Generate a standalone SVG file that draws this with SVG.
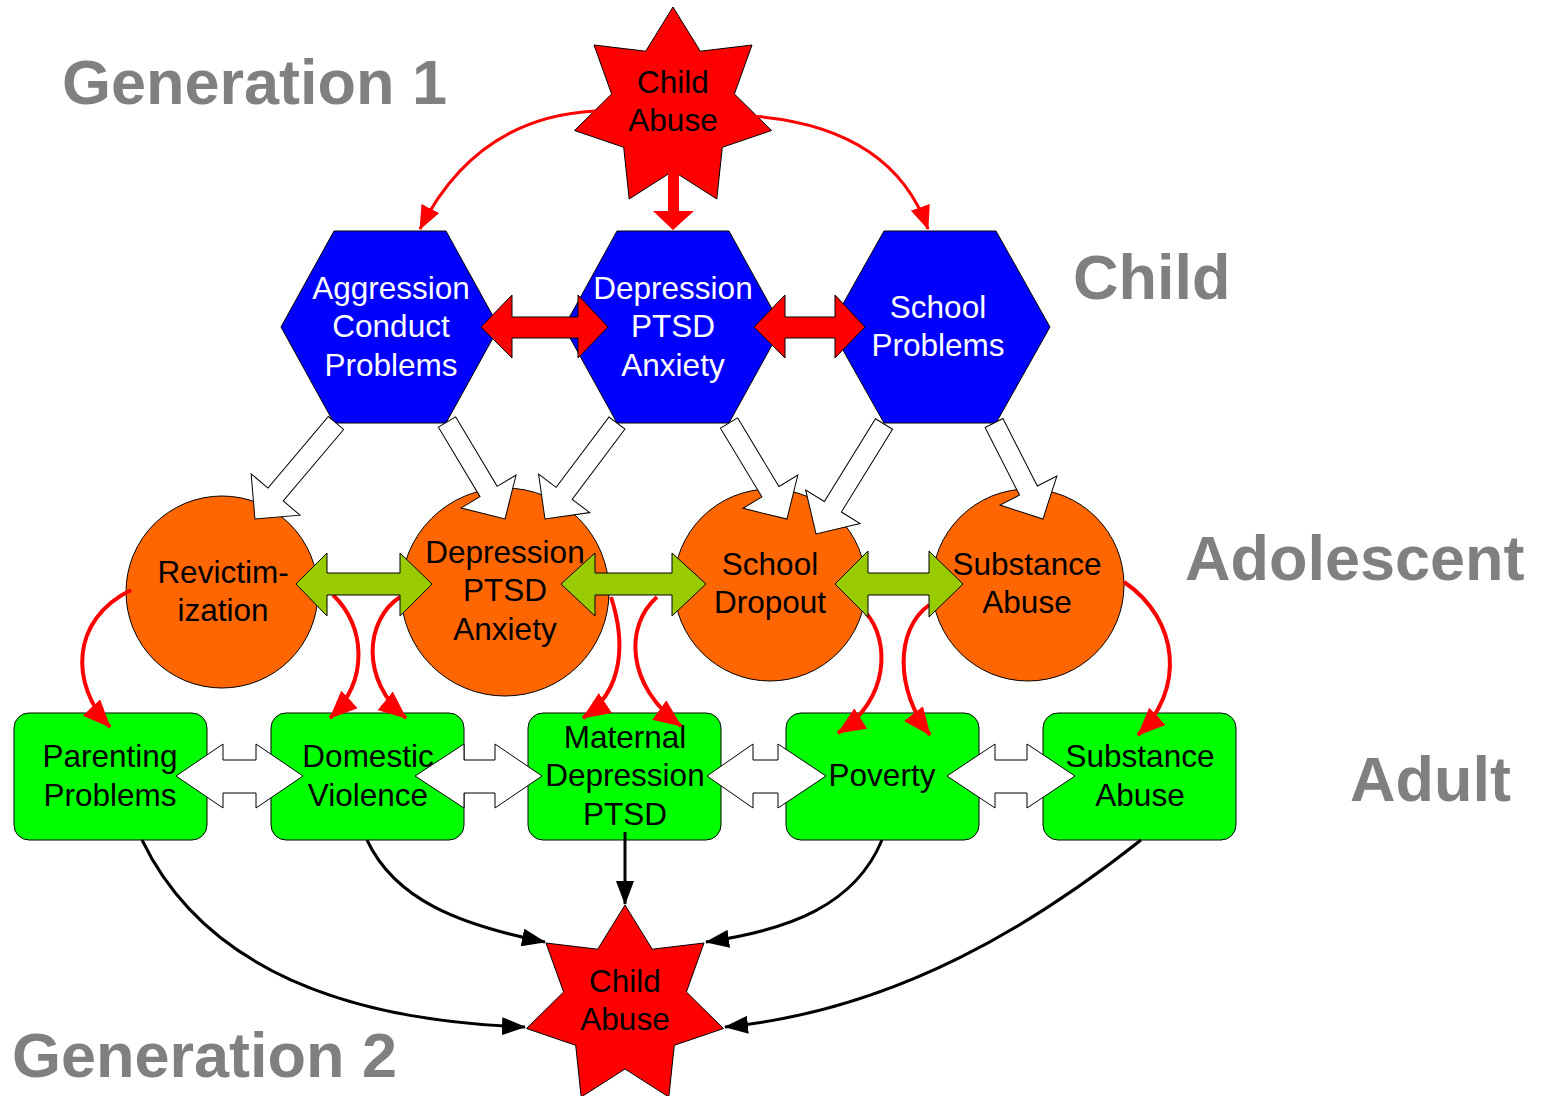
<svg xmlns="http://www.w3.org/2000/svg" width="1546" height="1096" viewBox="0 0 1546 1096">
<style>
text{font-family:"Liberation Sans",Arial,sans-serif;font-size:31.5px;text-anchor:middle;fill:#000}
.lbl{font-size:63px;font-weight:bold;fill:#808080;text-anchor:start}
.wt{fill:#fff}
.star{fill:#ff0000;stroke:#000;stroke-width:1}
.hex{fill:#0000ff;stroke:#000;stroke-width:1}
.circ{fill:#ff6600;stroke:#000;stroke-width:1}
.rect{fill:#00ff00;stroke:#000;stroke-width:1}
.rc{fill:none;stroke:#ff0000;stroke-width:3;marker-end:url(#ra)}
.rc2{fill:none;stroke:#ff0000;stroke-width:4;marker-end:url(#ra2)}
.bc{fill:none;stroke:#000;stroke-width:3;marker-end:url(#ba)}
.wa{fill:#fff;stroke:#000;stroke-width:1}
.red{fill:#ff0000;stroke:#000;stroke-width:1}
.grn{fill:#99cc00;stroke:#000;stroke-width:1}
</style>
<defs>
<marker id="ra" markerUnits="userSpaceOnUse" markerWidth="24" markerHeight="20" refX="23" refY="10" orient="auto"><path d="M0,0 L24,10 L0,20 z" fill="#ff0000"/></marker>
<marker id="ra2" markerUnits="userSpaceOnUse" markerWidth="28" markerHeight="24" refX="27" refY="12" orient="auto"><path d="M0,0 L28,12 L0,24 z" fill="#ff0000"/></marker>
<marker id="ba" markerUnits="userSpaceOnUse" markerWidth="24" markerHeight="18" refX="23" refY="9" orient="auto"><path d="M0,0 L24,9 L0,18 z" fill="#000"/></marker>
</defs>
<rect width="1546" height="1096" fill="#fff"/>
<g id="labels">
<text class="lbl" x="62" y="104">Generation 1</text>
<text class="lbl" x="1073" y="299">Child</text>
<text class="lbl" x="1185" y="580">Adolescent</text>
<text class="lbl" x="1350" y="801">Adult</text>
<text class="lbl" x="12" y="1077">Generation 2</text>
</g>
<g id="nodes">
<g id="star-top">
<polygon class="star" transform="translate(673,108)" points="0,-101 27.3,-56.8 79,-63 61.4,-14 98.5,22.5 49.3,39.3 43.8,91 0,63 -43.8,91 -49.3,39.3 -98.5,22.5 -61.4,-14 -79,-63 -27.3,-56.8"/>
<text x="673" y="93">Child</text><text x="673" y="131">Abuse</text>
</g>
<g id="hex-aggression">
<polygon class="hex" transform="translate(390,327)" points="-56,-96 56,-96 109,0 56,96 -56,96 -109,0"/>
<text class="wt" x="391" y="299">Aggression</text><text class="wt" x="391" y="337">Conduct</text><text class="wt" x="391" y="376">Problems</text>
</g>
<g id="hex-depression">
<polygon class="hex" transform="translate(673,327)" points="-56,-96 56,-96 109,0 56,96 -56,96 -109,0"/>
<text class="wt" x="673" y="299">Depression</text><text class="wt" x="673" y="337">PTSD</text><text class="wt" x="673" y="376">Anxiety</text>
</g>
<g id="hex-school">
<polygon class="hex" transform="translate(940,327)" points="-56,-96 56,-96 110,0 56,96 -56,96 -110,0"/>
<text class="wt" x="938" y="318">School</text><text class="wt" x="938" y="356">Problems</text>
</g>
<g id="circ-revictim">
<circle class="circ" cx="222" cy="592" r="96"/>
<text x="223" y="583">Revictim-</text><text x="223" y="621">ization</text>
</g>
<g id="circ-depression">
<circle class="circ" cx="505" cy="592" r="104"/>
<text x="505" y="563">Depression</text><text x="505" y="601">PTSD</text><text x="505" y="640">Anxiety</text>
</g>
<g id="circ-dropout">
<circle class="circ" cx="770" cy="585" r="96"/>
<text x="770" y="575">School</text><text x="770" y="613">Dropout</text>
</g>
<g id="circ-substance">
<circle class="circ" cx="1028" cy="585" r="96"/>
<text x="1027" y="575">Substance</text><text x="1027" y="613">Abuse</text>
</g>
<g id="rect-parenting">
<rect class="rect" x="14" y="713" width="193" height="127" rx="15"/>
<text x="110" y="767">Parenting</text><text x="110" y="806">Problems</text>
</g>
<g id="rect-domestic">
<rect class="rect" x="271" y="713" width="193" height="127" rx="15"/>
<text x="368" y="767">Domestic</text><text x="368" y="806">Violence</text>
</g>
<g id="rect-maternal">
<rect class="rect" x="528" y="713" width="193" height="127" rx="15"/>
<text x="625" y="748">Maternal</text><text x="625" y="786">Depression</text><text x="625" y="825">PTSD</text>
</g>
<g id="rect-poverty">
<rect class="rect" x="786" y="713" width="193" height="127" rx="15"/>
<text x="882" y="786">Poverty</text>
</g>
<g id="rect-substance">
<rect class="rect" x="1043" y="713" width="193" height="127" rx="15"/>
<text x="1140" y="767">Substance</text><text x="1140" y="806">Abuse</text>
</g>
<g id="star-bottom">
<polygon class="star" transform="translate(625,1006)" points="0,-101 27.3,-56.8 79,-63 61.4,-14 98.5,22.5 49.3,39.3 43.8,91 0,63 -43.8,91 -49.3,39.3 -98.5,22.5 -61.4,-14 -79,-63 -27.3,-56.8"/>
<text x="625" y="992">Child</text><text x="625" y="1030">Abuse</text>
</g>
</g>
<g id="connectors">
<path class="rc" d="M595,111 C520,115 460,150 420,229"/>
<path class="rc" d="M752,116 C830,122 900,150 928,229"/>
<polygon fill="#ff0000" points="668,166 679,166 679,211 694,211 673,230 653,211 668,211"/>
<path class="rc2" d="M131,590 C70,620 70,685 110,727"/>
<path class="rc2" d="M333,595 C365,625 370,680 330,718"/>
<path class="rc2" d="M400,597 C365,620 360,680 406,718"/>
<path class="rc2" d="M611,597 C625,640 625,690 583,718"/>
<path class="rc2" d="M657,597 C625,625 625,685 681,726"/>
<path class="rc2" d="M866,613 C890,640 890,700 838,733"/>
<path class="rc2" d="M929,605 C895,630 895,690 930,735"/>
<path class="rc2" d="M1124,582 C1180,620 1185,690 1138,735"/>
<path class="bc" d="M142,840 C200,960 330,1020 525,1027"/>
<path class="bc" d="M367,840 C395,900 460,925 545,942"/>
<path class="bc" d="M625,832 L625,904"/>
<path class="bc" d="M882,840 C855,905 790,930 706,942"/>
<path class="bc" d="M1141,840 C1040,920 900,1010 725,1027"/>
<polygon class="wa" transform="translate(336,423) rotate(130.2)" points="0,-10 93.6,-10 93.6,-32 125.6,0 93.6,32 93.6,10 0,10"/>
<polygon class="wa" transform="translate(447,422) rotate(59.1)" points="0,-10 81,-10 81,-32 113,0 81,32 81,10 0,10"/>
<polygon class="wa" transform="translate(617,423) rotate(126.9)" points="0,-10 88,-10 88,-32 120,0 88,32 88,10 0,10"/>
<polygon class="wa" transform="translate(729,423) rotate(58.9)" points="0,-10 80.2,-10 80.2,-32 112.2,0 80.2,32 80.2,10 0,10"/>
<polygon class="wa" transform="translate(884,424) rotate(121.7)" points="0,-10 97.3,-10 97.3,-32 129.3,0 97.3,32 97.3,10 0,10"/>
<polygon class="wa" transform="translate(994,423) rotate(63)" points="0,-10 75.8,-10 75.8,-32 107.8,0 75.8,32 75.8,10 0,10"/>
<polygon class="red" points="481,327 512,295 512,317 578,317 578,295 608,327 578,358 578,338 512,338 512,358"/>
<polygon class="red" points="754,327 785,295 785,317 835,317 835,295 865,327 835,358 835,338 785,338 785,358"/>
<polygon class="grn" points="296,584 327,553 327,573 400,573 400,553 432,584 400,616 400,595 327,595 327,616"/>
<polygon class="grn" points="561,584 595,553 595,573 672,573 672,553 706,584 672,616 672,595 595,595 595,616"/>
<polygon class="grn" points="835,584 868,551 868,573 929,573 929,551 963,584 929,617 929,595 868,595 868,617"/>
<polygon class="wa" points="176,776 223,744 223,760 256,760 256,744 303,776 256,808 256,793 223,793 223,808"/>
<polygon class="wa" points="415,776 464,744 464,760 495,760 495,744 542,776 495,808 495,793 464,793 464,808"/>
<polygon class="wa" points="707,776 753,744 753,760 778,760 778,744 826,776 778,808 778,793 753,793 753,808"/>
<polygon class="wa" points="947,776 995,744 995,760 1027,760 1027,744 1075,776 1027,808 1027,793 995,793 995,808"/>
</g>
</svg>
